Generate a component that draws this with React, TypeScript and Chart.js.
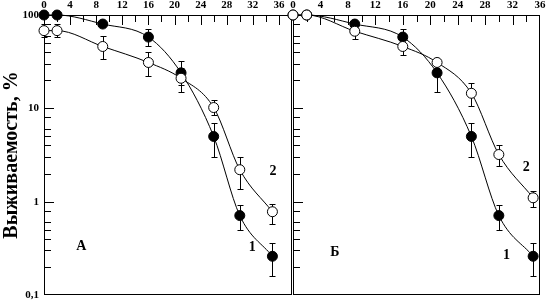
import React, { useEffect, useRef } from "react";
import { Chart, registerables } from "chart.js";

Chart.register(...registerables);

// ---------- data ----------
const timePoints = [0, 2, 9, 16, 21, 26, 30, 35];
const xTickValues = [0, 4, 8, 12, 16, 20, 24, 28, 32, 36];
const yTickValues = [0.1, 1, 10, 100];
const yTickLabels = ["0,1", "1", "10", "100"];
const yMinorFactors = [2, 3, 4, 5, 6, 8];
const yTitle = "Выживаемость, %";

// Panel A
const aFilled = [100, 100, 80, 58, 24, 5.0, 0.71, 0.26];
const aFilledHi = [null, null, null, 70, 32, 6.9, 0.91, 0.36];
const aFilledLo = [null, null, null, 47, 18, 3.0, 0.5, 0.16];
const aOpen = [68, 68, 46, 31, 21, 10.2, 2.2, 0.78];
const aOpenHi = [80, 80, 59, 40, 27, 12.3, 3.0, 0.95];
const aOpenLo = [58, 58, 34, 22, 15, 8.4, 1.38, 0.58];
const aLabelTexts = ["А", "1", "2"];
const aLabelX = [5.7, 31.9, 35.1];
const aLabelY = [0.33, 0.32, 2.1];

// Panel Б
const bFilled = [100, 100, 80, 58, 24, 5.0, 0.71, 0.26];
const bFilledHi = [null, null, null, 70, 30, 6.9, 0.91, 0.36];
const bFilledLo = [null, null, null, 48, 15, 3.0, 0.5, 0.16];
const bOpen = [100, 100, 67, 46, 31, 14.5, 3.2, 1.1];
const bOpenHi = [null, null, null, null, null, 18.5, 4.0, 1.3];
const bOpenLo = [null, null, 55, 37, null, 10.6, 2.4, 0.88];
const bLabelTexts = ["Б", "1", "2"];
const bLabelX = [6.1, 31.1, 34.0];
const bLabelY = [0.285, 0.265, 2.32];

// ---------- styling ----------
const FONT = "'Liberation Serif', 'Times New Roman', serif";
const BLACK = "#000";

const decorPlugin = {
  id: "decor",
  beforeDatasetsDraw(chart: any) {
    const ctx = chart.ctx;
    const ca = chart.chartArea;
    const xs = chart.scales.x;
    const ys = chart.scales.y;
    ctx.save();
    ctx.strokeStyle = BLACK;
    ctx.lineWidth = 1;
    // frame
    ctx.strokeRect(Math.round(ca.left) + 0.5, Math.round(ca.top) + 0.5, Math.round(ca.right - ca.left) - 1, Math.round(ca.bottom - ca.top) - 1);
    // inward x ticks on top axis
    ctx.beginPath();
    for (let v = 2; v < xs.max; v += 2) {
      const px = Math.round(xs.getPixelForValue(v)) + 0.5;
      const len = v % 4 === 0 ? 10 : 7;
      ctx.moveTo(px, ca.top);
      ctx.lineTo(px, ca.top + len);
    }
    // inward y ticks on left axis
    for (let dec = 0.1; dec < 100; dec *= 10) {
      const base = Math.round(dec * 10) / 10;
      if (base > 0.1) {
        const py = Math.round(ys.getPixelForValue(base)) + 0.5;
        ctx.moveTo(ca.left, py);
        ctx.lineTo(ca.left + 10, py);
      }
      for (const f of yMinorFactors) {
        const py = Math.round(ys.getPixelForValue(base * f)) + 0.5;
        ctx.moveTo(ca.left, py);
        ctx.lineTo(ca.left + 7, py);
      }
    }
    ctx.stroke();
    // error bars
    chart.data.datasets.forEach((ds: any) => {
      ds.data.forEach((pt: any, i: number) => {
        const px = Math.round(xs.getPixelForValue(pt.x)) + 0.5;
        const py = ys.getPixelForValue(pt.y);
        [ds.errHi[i], ds.errLo[i]].forEach((e: any) => {
          if (e == null) return;
          const pe = Math.round(ys.getPixelForValue(e)) + 0.5;
          ctx.beginPath();
          ctx.moveTo(px, py);
          ctx.lineTo(px, pe);
          ctx.moveTo(px - 3, pe);
          ctx.lineTo(px + 3, pe);
          ctx.stroke();
        });
      });
    });
    ctx.restore();
  },
  afterDatasetsDraw(chart: any, _args: any, opts: any) {
    const ctx = chart.ctx;
    const xs = chart.scales.x;
    const ys = chart.scales.y;
    ctx.save();
    ctx.fillStyle = BLACK;
    ctx.font = `bold 14px ${FONT}`;
    ctx.textAlign = "center";
    ctx.textBaseline = "middle";
    (opts.texts || []).forEach((t: string, i: number) => {
      ctx.fillText(t, xs.getPixelForValue(opts.xs[i]), ys.getPixelForValue(opts.ys[i]));
    });
    ctx.restore();
  },
};

const noScalePadding = (s: any) => {
  s.paddingTop = 0;
  s.paddingBottom = 0;
  s.paddingLeft = 0;
  s.paddingRight = 0;
};

function makeConfig(p: any) {
  const mk = (vals: number[], hi: any[], lo: any[], fill: string) => ({
    data: timePoints.map((x, i) => ({ x, y: vals[i] })),
    errHi: hi,
    errLo: lo,
    borderColor: BLACK,
    borderWidth: 1,
    pointRadius: 5,
    pointBackgroundColor: fill,
    pointBorderColor: BLACK,
    pointBorderWidth: 1,
    cubicInterpolationMode: "monotone",
    clip: false,
    fill: false,
  });
  return {
    type: "line",
    data: {
      datasets: [
        mk(p.open, p.openHi, p.openLo, "#fff"),
        mk(p.filled, p.filledHi, p.filledLo, BLACK),
      ],
    },
    plugins: [decorPlugin],
    options: {
      responsive: false,
      animation: false,
      events: [],
      layout: { padding: { left: 0, top: 0, right: p.padRight, bottom: 7 } },
      plugins: {
        legend: { display: false },
        tooltip: { enabled: false },
        decor: { texts: p.texts, xs: p.lx, ys: p.ly },
      },
      scales: {
        x: {
          type: "linear",
          position: "top",
          min: 0,
          max: p.xMax,
          afterBuildTicks: (s: any) => {
            s.ticks = xTickValues.map((v) => ({ value: v }));
          },
          afterFit: (s: any) => {
            s.height = 15;
            noScalePadding(s);
          },
          grid: { display: false, drawTicks: false },
          border: { display: false },
          ticks: {
            color: BLACK,
            font: { family: FONT, size: 11, weight: "bold" },
            padding: 3,
            maxRotation: 0,
            autoSkip: false,
          },
        },
        y: {
          type: "logarithmic",
          min: 0.1,
          max: 100,
          afterBuildTicks: (s: any) => {
            s.ticks = yTickValues.map((v) => ({ value: v }));
          },
          afterFit: (s: any) => {
            s.width = p.yWidth;
            noScalePadding(s);
          },
          grid: { display: false, drawTicks: false },
          border: { display: false },
          ticks: {
            display: p.showY,
            color: BLACK,
            font: { family: FONT, size: 11, weight: "bold" },
            padding: 5,
            autoSkip: false,
            callback: (_v: any, i: number) => yTickLabels[i],
          },
          title: {
            display: p.showY,
            text: yTitle,
            color: BLACK,
            font: { family: FONT, size: 20, weight: "bold" },
            padding: { top: 0, bottom: 0 },
          },
        },
      },
    },
  };
}

function Panel(props: { p: any; left: number; width: number }) {
  const ref = useRef<HTMLCanvasElement>(null);
  useEffect(() => {
    const chart = new Chart(ref.current as any, makeConfig(props.p) as any);
    return () => chart.destroy();
  }, []);
  return (
    <canvas
      ref={ref}
      width={props.width}
      height={302}
      style={{ position: "absolute", left: props.left, top: 0, width: props.width, height: 302 }}
    />
  );
}

const panelA = {
  open: aOpen, openHi: aOpenHi, openLo: aOpenLo,
  filled: aFilled, filledHi: aFilledHi, filledLo: aFilledLo,
  texts: aLabelTexts, lx: aLabelX, ly: aLabelY,
  xMax: 38, padRight: 8, yWidth: 44, showY: true,
};
const panelB = {
  open: bOpen, openHi: bOpenHi, openLo: bOpenLo,
  filled: bFilled, filledHi: bFilledHi, filledLo: bFilledLo,
  texts: bLabelTexts, lx: bLabelX, ly: bLabelY,
  xMax: 36, padRight: 7, yWidth: 13, showY: false,
};

export default function App() {
  return (
    <div style={{ position: "absolute", left: 0, top: 0, width: 547, height: 302, background: "#fff", overflow: "hidden" }}>
      <Panel p={panelA} left={0} width={300} />
      <Panel p={panelB} left={280} width={267} />
    </div>
  );
}
